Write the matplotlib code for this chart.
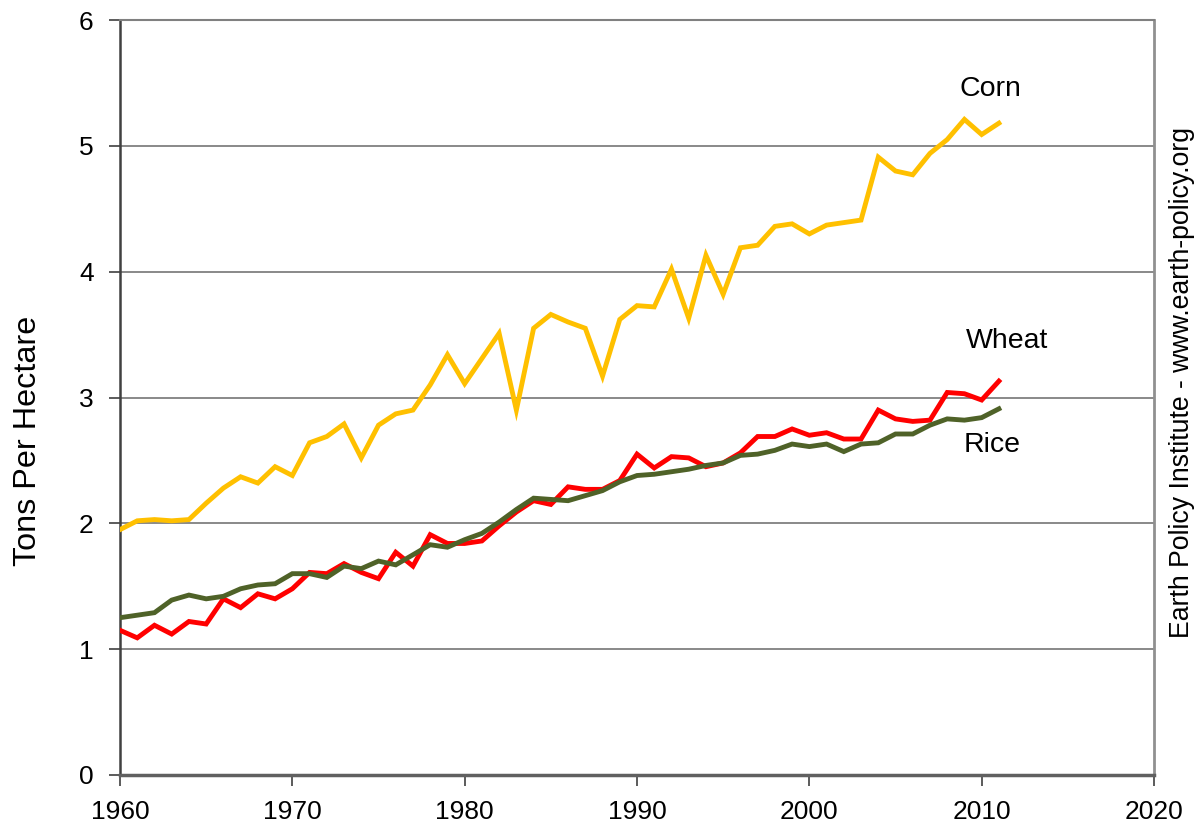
"""
grain yields per hectare, corn / wheat / rice, 1960-2011
"""
import numpy as np
import matplotlib as mpl
mpl.use('Agg')
import matplotlib.pyplot as plt

# data
years = np.arange(1960, 2012)
corn = [1.95, 2.02, 2.03, 2.02, 2.03, 2.16, 2.28, 2.37, 2.32, 2.45,
        2.38, 2.64, 2.69, 2.79, 2.52, 2.78, 2.87, 2.90, 3.10, 3.34,
        3.11, 3.31, 3.51, 2.90, 3.55, 3.66, 3.60, 3.55, 3.17, 3.62,
        3.73, 3.72, 4.02, 3.63, 4.13, 3.82, 4.19, 4.21, 4.36, 4.38,
        4.30, 4.37, 4.39, 4.41, 4.91, 4.80, 4.77, 4.94, 5.05, 5.21,
        5.09, 5.18]
wheat = [1.15, 1.09, 1.19, 1.12, 1.22, 1.20, 1.40, 1.33, 1.44, 1.40,
         1.48, 1.61, 1.60, 1.68, 1.61, 1.56, 1.77, 1.66, 1.91, 1.84,
         1.84, 1.86, 1.98, 2.09, 2.18, 2.15, 2.29, 2.27, 2.27, 2.34,
         2.55, 2.44, 2.53, 2.52, 2.45, 2.48, 2.56, 2.69, 2.69, 2.75,
         2.70, 2.72, 2.67, 2.67, 2.90, 2.83, 2.81, 2.82, 3.04, 3.03,
         2.98, 3.13]
rice = [1.25, 1.27, 1.29, 1.39, 1.43, 1.40, 1.42, 1.48, 1.51, 1.52,
        1.60, 1.60, 1.57, 1.66, 1.64, 1.70, 1.67, 1.75, 1.83, 1.81,
        1.87, 1.92, 2.01, 2.11, 2.20, 2.19, 2.18, 2.22, 2.26, 2.33,
        2.38, 2.39, 2.41, 2.43, 2.46, 2.48, 2.54, 2.55, 2.58, 2.63,
        2.61, 2.63, 2.57, 2.63, 2.64, 2.71, 2.71, 2.78, 2.83, 2.82,
        2.84, 2.91]

## plot
plt.rc('font', family=['Liberation Sans', 'DejaVu Sans'])
ftsize = 19

fig = plt.figure(figsize=(11.99, 8.27), dpi=100)
ax = fig.add_axes([120/1199, 52/827, (1154-120)/1199, (775-20)/827])

# grid
for yv in range(1, 7):
    ax.axhline(yv, color='#808080', linewidth=1.3, zorder=1)

ax.plot(years, corn, color='#FFC000', linewidth=3.5, zorder=3,
        solid_joinstyle='miter')
ax.plot(years, wheat, color='#FF0000', linewidth=3.5, zorder=4,
        solid_joinstyle='miter')
ax.plot(years, rice, color='#4F6228', linewidth=3.5, zorder=5,
        solid_joinstyle='miter')

# series labels
ax.text(2010.5, 5.45, 'Corn', fontsize=20.5, ha='center', va='center')
ax.text(2011.5, 3.45, 'Wheat', fontsize=20.5, ha='center', va='center')
ax.text(2010.6, 2.62, 'Rice', fontsize=20.5, ha='center', va='center')

ax.set_xlim(1960, 2020)
ax.set_ylim(0, 6)
ax.set_xticks(np.arange(1960, 2021, 10))
ax.set_yticks(np.arange(0, 7, 1))
ax.tick_params(axis='both', direction='out', length=8, width=1.2,
               color='#404040', labelsize=ftsize)
ax.tick_params(axis='y', pad=11)
ax.tick_params(axis='x', pad=10)

# spines
ax.spines['left'].set_color('#404040')
ax.spines['left'].set_linewidth(1.8)
ax.spines['bottom'].set_color('#606060')
ax.spines['bottom'].set_linewidth(2.5)
ax.spines['right'].set_color('#909090')
ax.spines['right'].set_linewidth(2.0)
ax.spines['top'].set_color('#808080')
ax.spines['top'].set_linewidth(1.5)

fig.text(28/1199, 1 - 441/827, 'Tons Per Hectare', rotation=90,
         fontsize=23.3, ha='center', va='center')
fig.text(1182/1199, 1 - 383/827, 'Earth Policy Institute - www.earth-policy.org',
         rotation=90, fontsize=19.2, ha='center', va='center')

plt.savefig('out.png', dpi=100)
